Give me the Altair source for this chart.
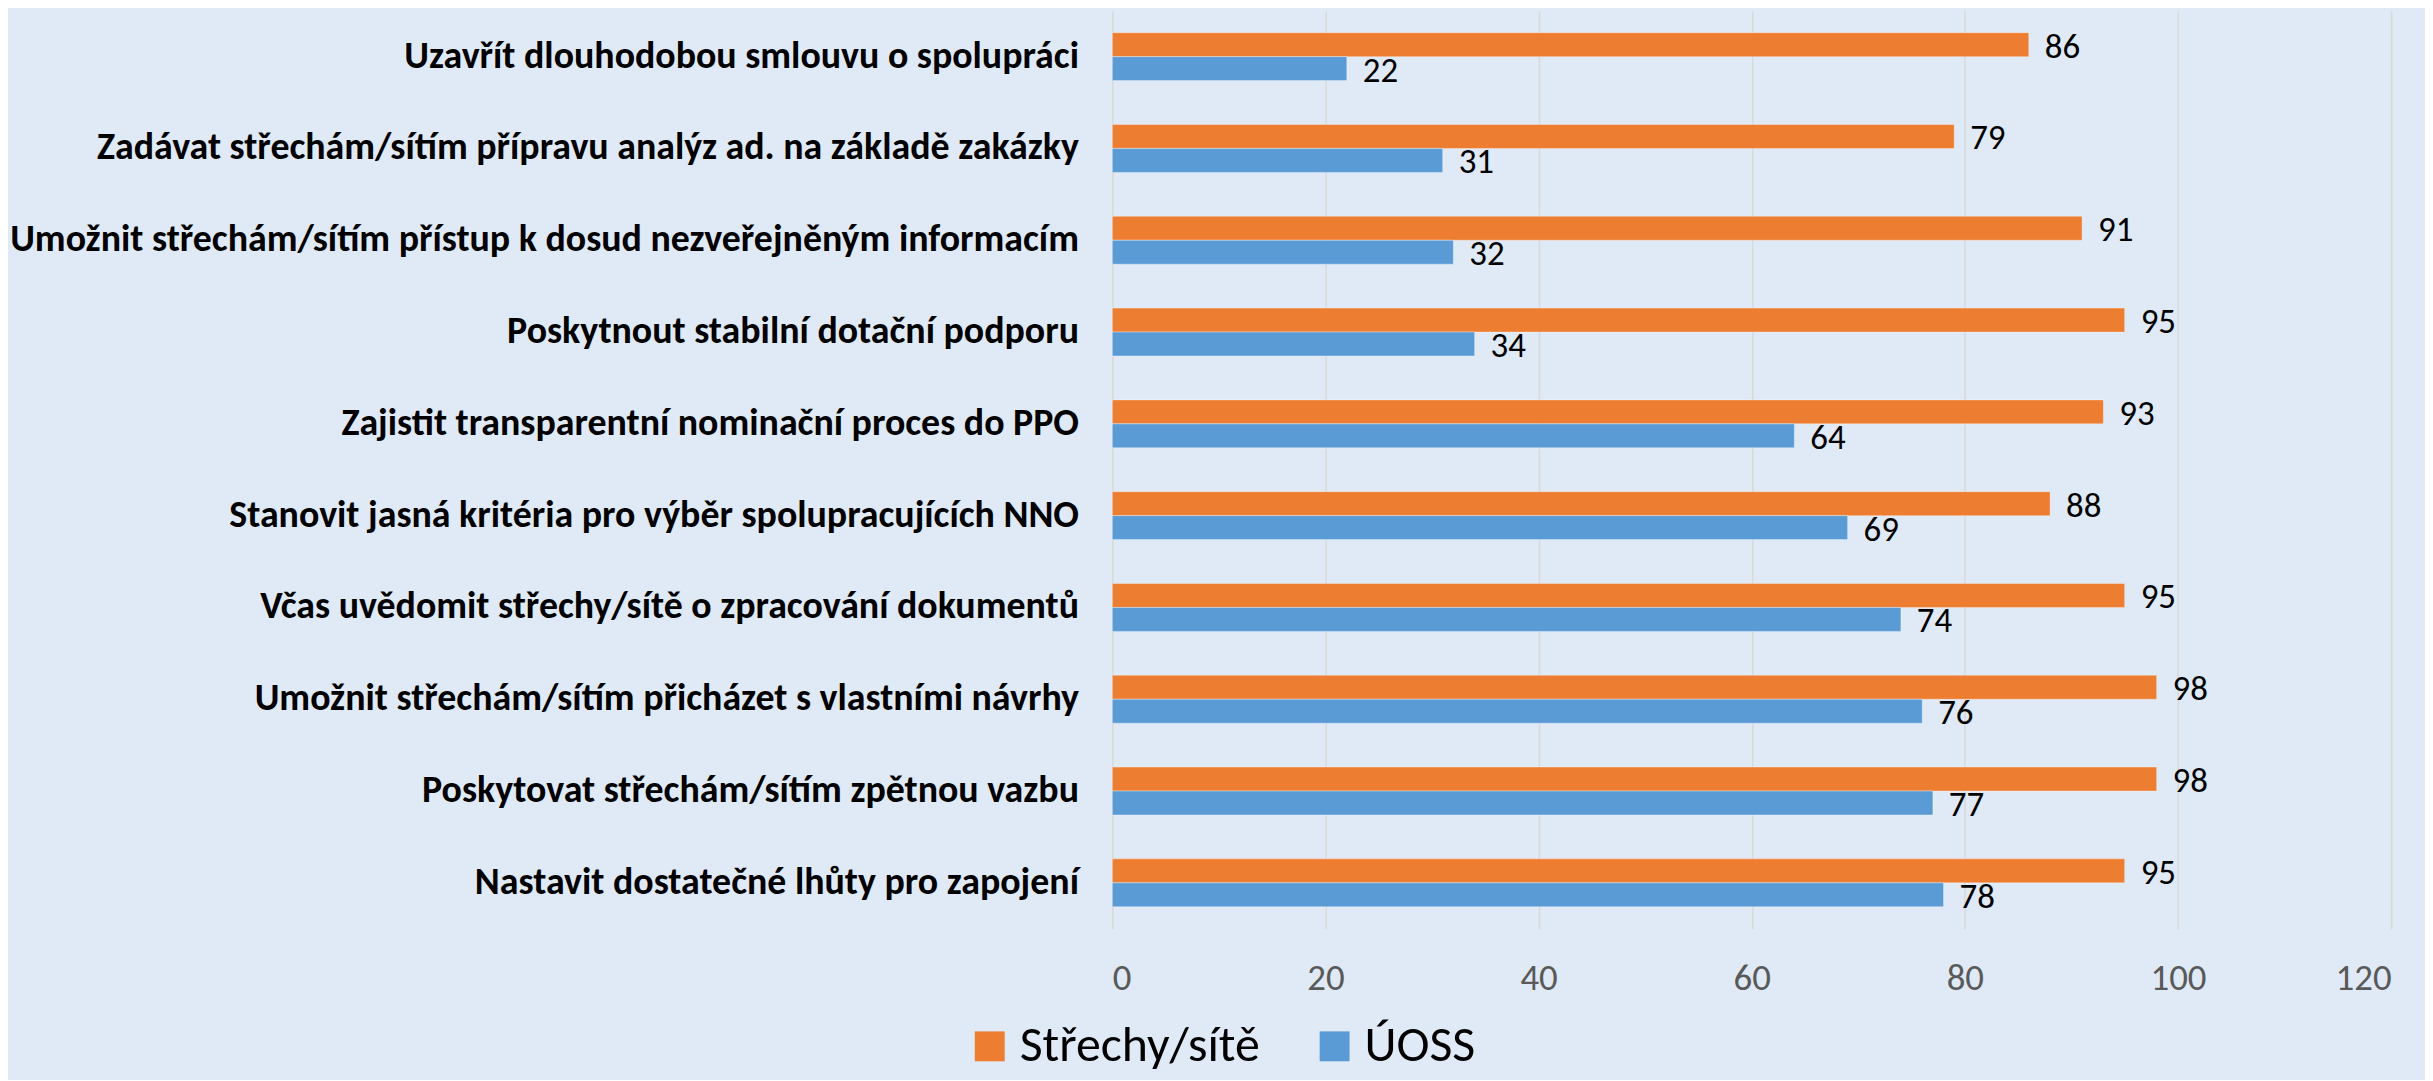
import altair as alt
import pandas as pd

categories = [
    "Uzavřít dlouhodobou smlouvu o spolupráci",
    "Zadávat střechám/sítím přípravu analýz ad. na základě zakázky",
    "Umožnit střechám/sítím přístup k dosud nezveřejněným informacím",
    "Poskytnout stabilní dotační podporu\u00a0",
    "Zajistit transparentní nominační proces do PPO",
    "Stanovit jasná kritéria pro výběr spolupracujících NNO\u00a0",
    "Včas uvědomit střechy/sítě o zpracování dokumentů\u00a0",
    "Umožnit střechám/sítím přicházet s vlastními návrhy",
    "Poskytovat střechám/sítím zpětnou vazbu",
    "Nastavit dostatečné lhůty pro zapojení",
]
strechy = [86, 79, 91, 95, 93, 88, 95, 98, 98, 95]
uoss = [22, 31, 32, 34, 64, 69, 74, 76, 77, 78]
series = ["Střechy/sítě", "ÚOSS"]
colors = ["#ED7D31", "#5B9BD5"]
x_ticks = [0, 20, 40, 60, 80, 100, 120]

rows = []
for c, a, b in zip(categories, strechy, uoss):
    rows.append({"cat": c, "series": series[0], "value": a})
    rows.append({"cat": c, "series": series[1], "value": b})
df = pd.DataFrame(rows)

FONT = "Carlito, 'Liberation Sans Narrow', 'Open Sans', sans-serif"

y_enc = alt.Y("cat:N", sort=categories, title=None,
              scale=alt.Scale(paddingInner=0.478, paddingOuter=0.239),
              axis=alt.Axis(domain=False, ticks=False, labelFontSize=38,
                            labelFontWeight="bold", labelColor="#000000",
                            labelFont=FONT, labelLimit=2000, labelPadding=34,
                            grid=False))
yoff = alt.YOffset("series:N", sort=series,
                   scale=alt.Scale(paddingInner=0, paddingOuter=0))
x_enc = alt.X("value:Q", title=None,
              scale=alt.Scale(domain=[0, 120], nice=False),
              axis=alt.Axis(values=x_ticks, domain=False, ticks=False,
                            grid=True, gridColor="#D9D9D9", gridWidth=1.5,
                            labelFontSize=37, labelColor="#595959",
                            labelFont=FONT, labelPadding=32))
color_enc = alt.Color("series:N", sort=series,
                      scale=alt.Scale(domain=series, range=colors),
                      legend=alt.Legend(title=None, orient="none",
                                        direction="horizontal",
                                        legendX=-148, legendY=1014,
                                        symbolType="square", symbolSize=900,
                                        symbolStrokeWidth=0,
                                        labelFontSize=50, labelFont=FONT,
                                        labelColor="#000000", labelOffset=5,
                                        columnPadding=50, labelLimit=1000))

bars = alt.Chart(df).mark_bar(stroke="#ffffff", strokeOpacity=0.35, strokeWidth=1).encode(
    x=x_enc, y=y_enc, yOffset=yoff, color=color_enc)
labels = alt.Chart(df).mark_text(align="left", baseline="middle", dx=16, dy=2,
                                 fontSize=35, font=FONT, color="#000000").encode(
    x="value:Q", y=alt.Y("cat:N", sort=categories), yOffset=yoff,
    text="value:Q")

chart = (bars + labels).properties(
    width=1283, height=921,
    autosize=alt.AutoSizeParams(type="none"),
    padding={"left": 1108, "top": 1, "right": 34, "bottom": 150},
    background="#DFEAF6",
).configure_view(stroke=None)

chart.save("out.html", embed_options={"renderer": "svg", "actions": False})
